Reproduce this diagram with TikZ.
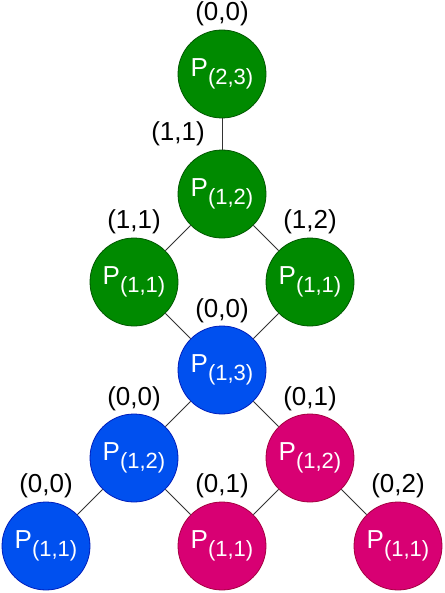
\documentclass[tikz,border=0pt]{standalone}
\usepackage{fontspec}
\setmainfont{Liberation Sans}
\definecolor{gfill}{HTML}{008A00}\definecolor{gline}{HTML}{005700}
\definecolor{bfill}{HTML}{0050EF}\definecolor{bline}{HTML}{001DBC}
\definecolor{mfill}{HTML}{D80073}\definecolor{mline}{HTML}{A50040}
\newcommand{\pnode}[1]{{\fontsize{26bp}{26bp}\selectfont P}{\fontsize{22bp}{22bp}\selectfont\raisebox{-8bp}{(#1)}}}
\tikzset{
  pc/.style={circle, minimum size=88bp, inner sep=0pt, text=white, line width=0.8bp},
  gc/.style={pc, fill=gfill, draw=gline},
  bc/.style={pc, fill=bfill, draw=bline},
  mc/.style={pc, fill=mfill, draw=mline},
  lab/.style={font=\fontsize{26bp}{26bp}\selectfont, inner sep=0pt, text=black},
  edge/.style={draw=black!80, line width=0.8bp}
}
\begin{document}
\begin{tikzpicture}[x=1bp,y=-1bp]
\useasboundingbox (0,0) rectangle (445,593);
\fill[white] (0,0) rectangle (445,593);
% nodes
\node[gc] (n1) at (222,74) {\pnode{2,3}};
\node[gc] (n2) at (222,194) {\pnode{1,2}};
\node[gc] (n3) at (134,282) {\pnode{1,1}};
\node[gc] (n4) at (310,282) {\pnode{1,1}};
\node[bc] (n5) at (222,370) {\pnode{1,3}};
\node[bc] (n6) at (134,458) {\pnode{1,2}};
\node[mc] (n7) at (310,458) {\pnode{1,2}};
\node[bc] (n8) at (46,546) {\pnode{1,1}};
\node[mc] (n9) at (222,546) {\pnode{1,1}};
\node[mc] (n10) at (398,546) {\pnode{1,1}};
% edges
\draw[edge] (n1) -- (n2);
\draw[edge] (n2) -- (n3);
\draw[edge] (n2) -- (n4);
\draw[edge] (n3) -- (n5);
\draw[edge] (n4) -- (n5);
\draw[edge] (n5) -- (n6);
\draw[edge] (n5) -- (n7);
\draw[edge] (n6) -- (n8);
\draw[edge] (n6) -- (n9);
\draw[edge] (n7) -- (n9);
\draw[edge] (n7) -- (n10);
% labels
\node[lab] (l1) at (222,14) {(0,0)};
\node[lab] (l2) at (178,134) {(1,1)};
\node[lab] (l3) at (134,222) {(1,1)};
\node[lab] (l4) at (310,222) {(1,2)};
\node[lab] (l5) at (222,311) {(0,0)};
\node[lab] (l6) at (134,399) {(0,0)};
\node[lab] (l7) at (310,399) {(0,1)};
\node[lab] (l8) at (46,486) {(0,0)};
\node[lab] (l9) at (222,486) {(0,1)};
\node[lab] (l10) at (398,486) {(0,2)};
\end{tikzpicture}
\end{document}
